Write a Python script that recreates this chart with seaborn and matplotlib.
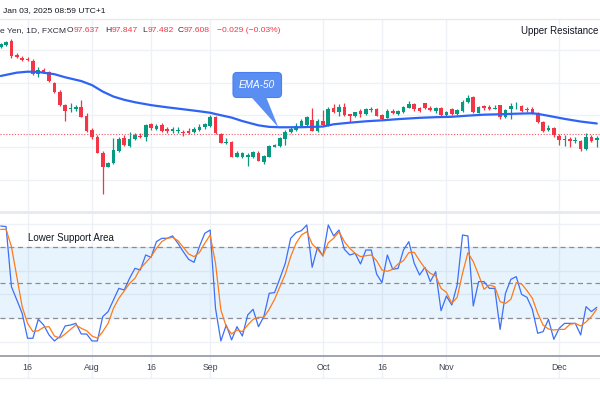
import numpy as np
import pandas as pd
import matplotlib
matplotlib.use("Agg")
import matplotlib.pyplot as plt
from matplotlib.patches import FancyBboxPatch, Polygon
from matplotlib.lines import Line2D
from matplotlib.transforms import Affine2D
import seaborn as sns

# ---------------- data ----------------
dates = pd.bdate_range("2024-07-09", periods=112)

opens = [108.37, 108.66, 109.20, 107.47, 107.10, 106.97, 106.72, 105.07, 105.57, 105.36,
         103.92, 102.89, 101.24, 100.70, 100.70, 100.95, 99.92, 98.14, 97.24, 95.34,
         93.61, 94.02, 95.59, 97.12, 96.17, 96.99, 97.44, 97.24, 98.84, 98.27,
         98.76, 98.23, 98.02, 98.02, 97.94, 98.02, 97.90, 98.14, 98.47, 98.64,
         99.79, 97.65, 96.58, 96.70, 94.85, 94.76, 94.85, 94.85, 95.34, 94.23,
         94.85, 96.08, 96.17, 97.07, 97.90, 98.14, 98.64, 98.76, 99.38, 98.06,
         99.26, 98.72, 100.83, 100.41, 101.03, 100.08, 99.88, 100.54, 100.12, 100.62,
         100.70, 99.96, 99.67, 100.54, 100.12, 100.33, 100.91, 101.32, 100.83, 101.44,
         100.91, 100.54, 100.83, 100.00, 100.70, 100.12, 100.50, 101.57, 102.19, 100.29,
         101.07, 100.99, 100.78, 101.20, 99.79, 100.70, 100.95, 101.11, 100.74, 100.78,
         100.21, 99.13, 98.14, 98.43, 97.40, 96.91, 97.07, 96.83, 96.78, 95.84,
         97.24, 96.91]
highs = [108.95, 109.20, 109.41, 107.71, 107.30, 107.14, 106.89, 105.90, 105.78, 105.49,
         104.04, 103.09, 101.36, 101.44, 101.20, 101.86, 100.21, 98.35, 97.53, 95.59,
         94.23, 97.12, 97.24, 97.53, 97.94, 97.73, 97.73, 98.89, 99.05, 98.89,
         98.97, 98.47, 98.47, 98.47, 98.14, 98.35, 98.47, 98.89, 99.05, 99.96,
         99.88, 97.73, 97.12, 96.83, 95.59, 95.47, 95.34, 95.59, 95.51, 95.09,
         96.25, 96.41, 97.32, 98.14, 98.64, 99.05, 99.46, 99.92, 100.83, 99.46,
         100.62, 100.95, 101.36, 101.36, 101.44, 100.17, 100.41, 100.78, 100.87, 101.03,
         100.83, 100.08, 100.70, 100.78, 100.62, 101.11, 101.73, 101.44, 101.03, 101.53,
         101.11, 101.03, 100.95, 100.50, 100.83, 100.78, 101.86, 102.48, 102.35, 101.11,
         101.24, 101.24, 101.24, 101.24, 100.78, 101.53, 101.65, 101.24, 100.95, 100.95,
         100.37, 99.22, 98.76, 98.56, 97.61, 97.53, 97.32, 97.24, 96.91, 97.73,
         97.53, 97.40]
lows = [108.25, 108.54, 107.10, 107.05, 106.72, 106.64, 104.99, 104.74, 105.16, 104.08,
        102.72, 101.11, 99.30, 100.41, 100.54, 99.71, 97.90, 96.99, 95.26, 90.22,
        93.53, 93.94, 95.47, 96.17, 96.08, 96.91, 97.12, 96.83, 98.14, 98.14,
        97.94, 97.82, 97.73, 97.82, 97.40, 97.65, 97.73, 98.02, 98.31, 98.56,
        97.65, 96.50, 96.41, 94.76, 94.76, 94.68, 93.69, 94.72, 94.27, 93.94,
        94.76, 96.00, 96.08, 96.29, 97.73, 97.98, 98.47, 98.64, 97.98, 97.94,
        98.64, 98.64, 100.29, 99.88, 99.88, 99.17, 99.71, 99.79, 100.00, 100.41,
        99.88, 99.42, 99.59, 100.08, 100.00, 100.25, 100.83, 100.54, 100.37, 100.70,
        100.50, 100.29, 99.79, 99.88, 100.00, 100.04, 100.33, 101.44, 100.29, 100.21,
        100.62, 100.62, 100.70, 99.46, 99.67, 99.55, 100.70, 100.41, 100.37, 100.12,
        98.97, 97.90, 98.02, 97.32, 96.29, 96.17, 96.08, 96.50, 95.59, 95.67,
        96.66, 96.08]
closes = [108.79, 109.08, 107.30, 107.22, 106.81, 106.77, 105.07, 105.57, 105.32, 104.21,
          102.81, 101.24, 100.54, 100.83, 100.95, 99.79, 98.02, 97.24, 95.34, 93.61,
          94.10, 95.67, 96.99, 96.29, 96.99, 97.53, 97.28, 98.76, 98.35, 98.68,
          98.02, 98.02, 98.23, 98.14, 97.82, 97.82, 98.31, 98.56, 98.89, 99.79,
          97.73, 96.58, 96.70, 94.85, 95.34, 95.34, 95.09, 95.42, 94.35, 94.93,
          96.17, 96.29, 97.20, 97.94, 98.27, 98.64, 99.30, 99.79, 98.06, 99.30,
          98.80, 100.78, 100.41, 101.03, 100.04, 99.92, 100.33, 100.12, 100.70, 100.78,
          99.92, 99.55, 100.50, 100.21, 100.45, 100.95, 101.36, 100.70, 100.54, 100.83,
          100.58, 100.83, 100.00, 100.33, 100.12, 100.62, 101.65, 102.06, 100.37, 100.95,
          100.91, 100.78, 100.87, 99.71, 100.62, 101.11, 101.03, 100.54, 100.58, 100.21,
          99.13, 98.06, 98.43, 97.53, 96.91, 97.07, 96.83, 96.91, 95.84, 97.32,
          96.83, 97.16]

ema_idx = [0, 3, 5, 7, 10, 12, 15, 17, 19, 21, 23, 25, 28, 31, 34, 37, 39, 40, 43, 45,
           48, 50, 52, 54, 56, 60, 62, 65, 68, 71, 74, 78, 81, 84, 87, 90, 93, 96, 99,
           100, 102, 105, 108, 111]
ema_val = [104.83, 105.24, 105.36, 105.32, 105.05, 104.67, 104.20, 103.70, 102.90, 102.28,
           101.88, 101.58, 101.22, 100.95, 100.71, 100.46, 100.28, 100.12, 99.68, 99.25,
           98.72, 98.53, 98.48, 98.48, 98.49, 98.57, 98.85, 99.05, 99.22, 99.34,
           99.49, 99.65, 99.73, 99.78, 99.92, 100.04, 100.09, 100.16, 100.21, 100.14,
           99.90, 99.52, 99.19, 98.95]

stoch_k = [97.9, 97.4, 46.6, 35.4, 24.1, 3.0, 3.0, 19.0, 14.2, 5.8,
           0.7, 4.4, 13.4, 14.2, 15.6, 6.6, 6.6, 0.7, 0.7, 21.3,
           25.5, 35.4, 45.2, 43.8, 53.7, 62.1, 60.7, 73.4, 71.4, 84.7,
           87.5, 87.5, 89.5, 83.3, 76.2, 69.7, 67.2, 80.5, 91.7, 94.5,
           28.3, 0.7, 14.2, 1.6, 12.8, 4.9, 22.7, 27.5, 12.8, 21.3,
           41.0, 41.6, 53.7, 66.4, 87.5, 92.3, 94.0, 98.8, 63.0, 79.9,
           72.6, 98.8, 89.5, 94.5, 78.2, 73.4, 74.8, 65.8, 77.6, 77.6,
           57.3, 50.0, 73.4, 61.3, 62.1, 77.6, 84.7, 66.4, 56.5, 63.0,
           50.9, 59.3, 26.3, 38.7, 31.1, 48.0, 90.3, 89.5, 30.3, 50.9,
           50.9, 45.2, 45.2, 10.5, 41.0, 52.8, 55.1, 40.1, 37.6, 27.5,
           7.2, 8.6, 19.0, 2.1, 11.4, 15.6, 15.6, 15.6, 5.8, 29.7,
           25.5, 29.2]
stoch_d = [95.1, 95.1, 80.4, 55.1, 29.7, 15.6, 8.6, 9.4, 12.3, 12.8,
           4.9, 3.2, 6.6, 10.5, 14.2, 11.4, 9.4, 4.9, 3.0, 8.6,
           15.6, 28.3, 36.8, 43.0, 49.4, 53.7, 62.1, 66.9, 72.0, 79.0,
           84.7, 87.5, 88.3, 85.5, 79.9, 74.3, 72.0, 75.4, 83.3, 90.3,
           66.4, 26.9, 12.8, 6.6, 10.0, 8.6, 14.2, 19.0, 20.7, 20.7,
           27.5, 35.9, 46.6, 57.3, 72.0, 83.3, 90.3, 93.1, 82.7, 78.2,
           72.6, 83.8, 87.5, 93.1, 84.7, 79.0, 74.8, 72.0, 72.8, 73.4,
           68.6, 60.7, 59.6, 61.3, 65.8, 68.6, 75.4, 75.7, 68.6, 62.1,
           57.9, 55.7, 45.2, 41.8, 32.5, 37.6, 57.9, 75.4, 67.8, 56.5,
           44.4, 48.0, 46.6, 33.9, 32.5, 35.9, 50.0, 48.9, 43.3, 36.8,
           24.1, 14.2, 10.8, 10.0, 10.5, 10.5, 14.8, 15.6, 13.4, 16.8,
           21.3, 27.7]

tick_dates = ["2024-07-16", "2024-08-01", "2024-08-16", "2024-09-02",
              "2024-10-01", "2024-10-16", "2024-11-01", "2024-12-02"]
tick_labels = ["16", "Aug", "16", "Sep", "Oct", "16", "Nov", "Dec"]
price_grid = [92, 96, 100, 104, 108, 112]
stoch_grid = [0, 20, 40, 60, 80, 100]
band_levels = [20, 50, 80]
last_price = 97.608
header = "Jan 03, 2025 08:59 UTC+1"
symbol = "e Yen, 1D, FXCM"
ohlc = [("O", "97.637"), ("H", "97.847"), ("L", "97.482"), ("C", "97.608")]
change = "\u22120.029 (\u22120.03%)"

# ---------------- style ----------------
sns.set_theme(style="white")
plt.rcParams["font.family"] = ["Liberation Sans", "DejaVu Sans"]

UP, DOWN = "#089981", "#F23645"
GRID = "#eef1f6"
TXT = "#131722"
W, H = 600, 400
FS = 6.1

fig = plt.figure(figsize=(6, 4), dpi=100)
fig.patch.set_facecolor("white")
px = Affine2D().scale(1 / W, -1 / H).translate(0, 1) + fig.transFigure


def fy(y):
    return 1 - y / H


x = np.arange(len(dates))
tick_pos = [dates.get_loc(pd.Timestamp(d)) for d in tick_dates]
xlim = (-0.13, 111.6)

o = np.array(opens); c = np.array(closes)
hi = np.array(highs); lo = np.array(lows)

# ---------------- main price panel ----------------
ax = fig.add_axes([0, fy(211), 1, (211 - 19) / H])
ax.set_xlim(*xlim)
ax.set_ylim(88.12, 111.88)
for v in price_grid:
    ax.axhline(v, color=GRID, lw=1, zorder=0)
for t in tick_pos:
    ax.axvline(t, color=GRID, lw=1, zorder=0)

colors = np.where(c >= o, UP, DOWN)
ax.vlines(x, lo, hi, colors=colors, lw=0.9, zorder=2)
body_bottom = np.minimum(o, c)
body_h = np.maximum(np.abs(c - o), 0.06)
ax.bar(x, body_h, bottom=body_bottom, width=0.68, color=colors, lw=0, zorder=3)

ax.axhline(last_price, color=DOWN, lw=0.8, ls=(0, (1, 1.6)), alpha=0.85, zorder=1)
sns.lineplot(x=ema_idx, y=ema_val, ax=ax, color="#2f63f6", lw=1.6, zorder=4)
ax.set_xticks([]); ax.set_yticks([])
ax.set_xlabel(""); ax.set_ylabel("")
for s in ax.spines.values():
    s.set_visible(False)

# ---------------- stochastic panel ----------------
ax2 = fig.add_axes([0, fy(356), 1, (356 - 213) / H])
ax2.set_xlim(*xlim)
ax2.set_ylim(-12, 108.9)
for v in stoch_grid:
    ax2.axhline(v, color=GRID, lw=1, zorder=0)
for t in tick_pos:
    ax2.axvline(t, color=GRID, lw=1, zorder=0)
ax2.axhspan(band_levels[0], band_levels[-1], color="#2196F3", alpha=0.1, lw=0, zorder=1)
for v in band_levels:
    ax2.axhline(v, color="#8a8d96", lw=0.9, ls=(0, (4, 3)), zorder=2)
sns.lineplot(x=x, y=stoch_k, ax=ax2, color="#3d6ff7", lw=0.9, zorder=4)
sns.lineplot(x=x, y=stoch_d, ax=ax2, color="#FF7a1a", lw=0.9, zorder=5)
ax2.set_xticks([]); ax2.set_yticks([])
ax2.set_xlabel(""); ax2.set_ylabel("")
for s in ax2.spines.values():
    s.set_visible(False)

# ---------------- time axis ----------------
ax3 = fig.add_axes([0, fy(378), 1, (378 - 356) / H])
ax3.set_xlim(*xlim)
ax3.set_ylim(0, 1)
for t in tick_pos:
    ax3.axvline(t, color=GRID, lw=1, zorder=0)
for t, lab in zip(tick_pos, tick_labels):
    ax3.text(t, 0.5, lab, ha="center", va="center", fontsize=6.3, color="#40434d")
ax3.set_xticks([]); ax3.set_yticks([])
for k, s in ax3.spines.items():
    s.set_visible(False)
fig.add_artist(Line2D([0, 600], [356, 356], transform=px, color="#9a9da6", lw=1.3))
fig.add_artist(Line2D([0, 600], [378, 378], transform=px, color="#eef0f4", lw=1))

# separators
fig.add_artist(Line2D([0, 600], [19, 19], transform=px, color="#e6e9ef", lw=1))
fig.add_artist(Line2D([0, 600], [212, 212], transform=px, color="#e6e9ef", lw=2))

# ---------------- texts ----------------
fig.text(2.7, 11, header, transform=px, ha="left", va="center", fontsize=FS, color=TXT)
fig.text(0.5, 31, symbol, transform=px, ha="left", va="center", fontsize=FS, color="#2a2e39")
ohlc_x = [74.0, 111.7, 147.7, 184.0]
for (lab, val), xv in zip(ohlc, ohlc_x):
    fig.text(xv - 0.3, 31, lab, transform=px, ha="right", va="center", fontsize=FS, color="#2a2e39")
    fig.text(xv, 31, val, transform=px, ha="left", va="center", fontsize=FS, color=DOWN)
fig.text(216.7, 31, change, transform=px, ha="left", va="center", fontsize=FS, color=DOWN)
fig.text(598.5, 31, "Upper Resistance", transform=px, ha="right", va="center",
         fontsize=7.0, color=TXT)
fig.text(28.3, 238, "Lower Support Area", transform=px, ha="left", va="center",
         fontsize=7.0, color=TXT)

# EMA-50 callout
box = FancyBboxPatch((233, 72.5), 48.5, 25, boxstyle="round,pad=0,rounding_size=4",
                     transform=px, fc="#5b8ef2", ec="#4a7fee", lw=0.8)
ptr = Polygon([(251, 96.8), (266, 96.8), (278.3, 127.3)], closed=True, transform=px,
              fc="#5b8ef2", ec="none")
fig.add_artist(box)
fig.add_artist(ptr)
fig.text(257.3, 85, "EMA-50", transform=px, ha="center", va="center", fontsize=7.2,
         color="white", style="italic")

fig.savefig("out.png", dpi=100, facecolor="white")
